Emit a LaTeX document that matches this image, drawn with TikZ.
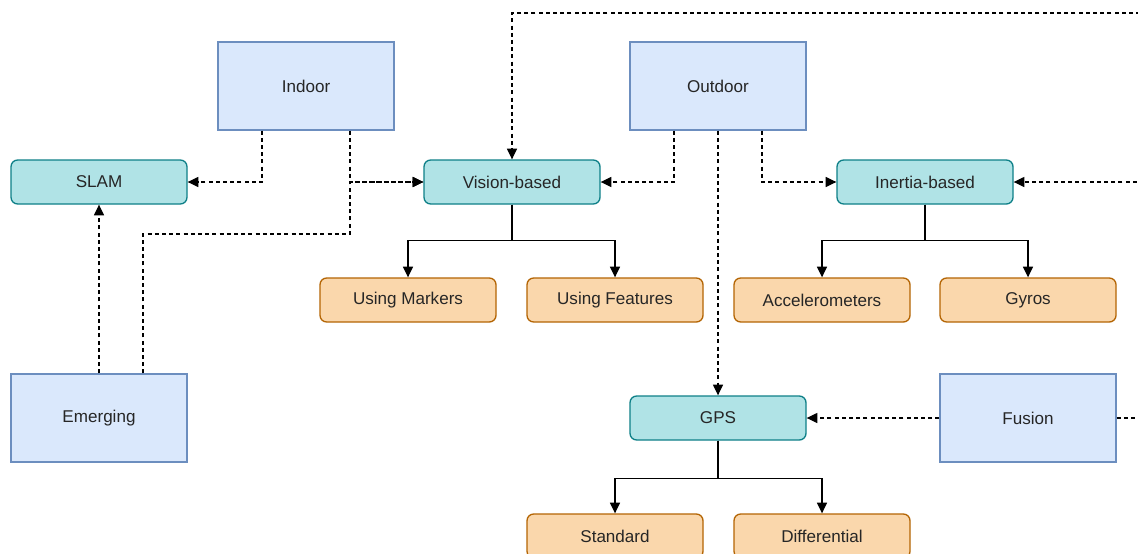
\documentclass[tikz,border=0pt]{standalone}
\usepackage{fontspec}
\setmainfont{Liberation Sans}
\usetikzlibrary{arrows.meta,calc}
\definecolor{siteFill}{HTML}{DAE8FC}
\definecolor{siteLine}{HTML}{6C8EBF}
\definecolor{methFill}{HTML}{B0E3E6}
\definecolor{methLine}{HTML}{0E8088}
\definecolor{techFill}{HTML}{FAD7AC}
\definecolor{techLine}{HTML}{B46504}
\begin{document}
\begin{tikzpicture}[x=0.75pt,y=-0.75pt,
  font=\fontsize{12.8}{15}\selectfont,
  base/.style={draw,line width=1pt,inner sep=0pt,minimum width=132pt,text=black!85},
  site/.style={base,fill=siteFill,draw=siteLine,minimum height=66pt},
  meth/.style={base,fill=methFill,draw=methLine,minimum height=33pt,rounded corners=5pt},
  tech/.style={base,fill=techFill,draw=techLine,minimum height=33pt,rounded corners=5pt},
  dline/.style={line width=0.9pt,dash pattern=on 3pt off 2.4pt},
  dlink/.style={dline,-{Triangle[length=8pt,width=7.5pt]}},
  slink/.style={line width=1pt,-{Triangle[length=8pt,width=7.5pt]}}]
\useasboundingbox (0,0) rectangle (1138,553);
\clip (0,0) rectangle (1138,553);
\fill[white] (0,0) rectangle (1138,553);

% environments
\node[site] (indoor)   at (306,86)  {Indoor};
\node[site] (outdoor)  at (718,86)  {Outdoor};
\node[site] (emerging) at (99,418)  {Emerging};
\node[site] (fusion)   at (1028,418) {Fusion};

% tracking methods
\node[meth] (slam)    at (99,182)  {SLAM};
\node[meth] (vision)  at (512,182) {Vision-based};
\node[meth] (inertia) at (925,182) {Inertia-based};
\node[meth] (gps)     at (718,418) {GPS};

% techniques
\node[tech] (markers)  at (408,300) {Using Markers};
\node[tech] (features) at (615,300) {Using Features};
\node[tech] (accel)    at (822,300) {Accelerometers};
\node[tech] (gyros)    at (1028,300) {Gyros};
\node[tech] (standard) at (615,536) {Standard};
\node[tech] (diff)     at (822,536) {Differential};

% routing points
\coordinate (ejoin) at (350,234);
\coordinate (fout)  at (1160,418);
\coordinate (ftop)  at (1160,13);

% dashed relations
\draw[dlink] ($(indoor.south)+(-44,0)$) |- (slam);
\draw[dlink] ($(indoor.south)+(44,0)$) |- (vision);
\draw[dlink] ($(emerging.north)+(44,0)$) |- (ejoin) |- (vision);
\draw[dlink] (emerging) -- (slam);
\draw[dlink] ($(outdoor.south)+(-44,0)$) |- (vision);
\draw[dlink] (outdoor) -- (gps);
\draw[dlink] ($(outdoor.south)+(44,0)$) |- (inertia);
\draw[dlink] (fusion) -- (gps);
\draw[dline] (fusion) -- (fout);
\draw[dlink] (fout) |- (inertia);
\draw[dlink] (fout) -- (ftop) -| (vision);

% solid sub-category trees
\draw[slink] (vision.south) -- ++(0,36) -| (markers);
\draw[slink] (vision.south) -- ++(0,36) -| (features);
\draw[slink] (inertia.south) -- ++(0,36) -| (accel);
\draw[slink] (inertia.south) -- ++(0,36) -| (gyros);
\draw[slink] (gps.south) -- ++(0,38) -| (standard);
\draw[slink] (gps.south) -- ++(0,38) -| (diff);
\end{tikzpicture}
\end{document}
